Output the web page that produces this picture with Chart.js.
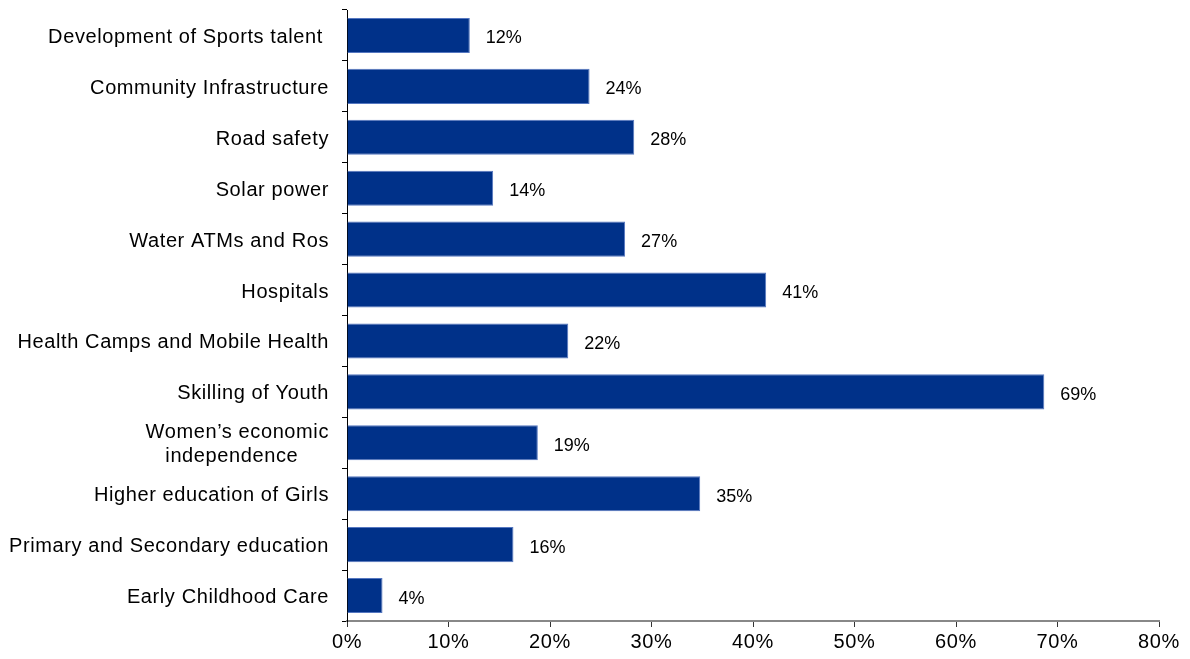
<!DOCTYPE html>
<html>
<head>
<meta charset="utf-8">
<script src="https://cdn.jsdelivr.net/npm/chart.js@4/dist/chart.umd.min.js"></script>
<style>
html,body{margin:0;padding:0;background:#fff;}
#wrap{width:1190px;height:659px;position:relative;}
</style>
</head>
<body>
<div id="wrap"><canvas id="c" width="1190" height="659"></canvas></div>
<script>
const categories = [
  "Development of Sports talent ",
  "Community Infrastructure",
  "Road safety",
  "Solar power",
  "Water ATMs and Ros",
  "Hospitals",
  "Health Camps and Mobile Health",
  "Skilling of Youth",
  ["Women\u2019s economic", "independence     "],
  "Higher education of Girls",
  "Primary and Secondary education",
  "Early Childhood Care"
];
const values = [12.1, 23.9, 28.3, 14.4, 27.4, 41.3, 21.8, 68.7, 18.8, 34.8, 16.4, 3.5];
const valueLabels = ["12%", "24%", "28%", "14%", "27%", "41%", "22%", "69%", "19%", "35%", "16%", "4%"];
const xTicks = [0, 10, 20, 30, 40, 50, 60, 70, 80];

const spacing = {
  id: 'spacing',
  beforeUpdate(chart) { chart.ctx.letterSpacing = '0.6px'; },
  beforeDraw(chart) { chart.ctx.letterSpacing = '0.6px'; }
};

const barLabels = {
  id: 'barLabels',
  afterDatasetsDraw(chart) {
    const ctx = chart.ctx;
    const meta = chart.getDatasetMeta(0);
    ctx.save();
    ctx.letterSpacing = '0px';
    ctx.font = '18px "Liberation Sans", Arial, sans-serif';
    ctx.fillStyle = '#000';
    ctx.textAlign = 'left';
    ctx.textBaseline = 'middle';
    meta.data.forEach((el, i) => {
      ctx.fillText(valueLabels[i], el.x + 16, el.y + 3);
    });
    ctx.restore();
  }
};

new Chart(document.getElementById('c'), {
  type: 'bar',
  data: {
    labels: categories,
    datasets: [{
      data: values,
      backgroundColor: '#003189',
      borderColor: '#5577c0',
      borderWidth: 1,
      categoryPercentage: 0.69,
      barPercentage: 1.0
    }]
  },
  options: {
    indexAxis: 'y',
    responsive: false,
    animation: false,
    events: [],
    layout: { padding: { top: 10, right: 31, left: 0, bottom: 0 } },
    plugins: { legend: { display: false }, tooltip: { enabled: false } },
    scales: {
      x: {
        min: 0, max: 80,
        afterBuildTicks(scale) { scale.ticks = xTicks.map(v => ({ value: v })); },
        afterFit(scale) { scale.height = 38; scale.paddingLeft = 0; scale.paddingRight = 0; },
        grid: { drawOnChartArea: false, drawTicks: true, tickLength: 6, color: '#333' },
        border: { display: true, color: '#888', width: 2 },
        ticks: {
          padding: 3,
          color: '#000',
          font: { family: '"Liberation Sans", Arial, sans-serif', size: 20 },
          callback: v => v + '%'
        }
      },
      y: {
        afterFit(scale) { scale.width = 347; scale.paddingTop = 0; scale.paddingBottom = 0; },
        grid: { drawOnChartArea: false, drawTicks: true, tickLength: 5, color: '#000', offset: true },
        border: { display: true, color: '#000', width: 1 },
        ticks: {
          padding: 13,
          labelOffset: 2,
          color: '#000',
          autoSkip: false,
          font: { family: '"Liberation Sans", Arial, sans-serif', size: 20, lineHeight: 1.2 }
        }
      }
    }
  },
  plugins: [spacing, barLabels]
});
</script>
</body>
</html>
